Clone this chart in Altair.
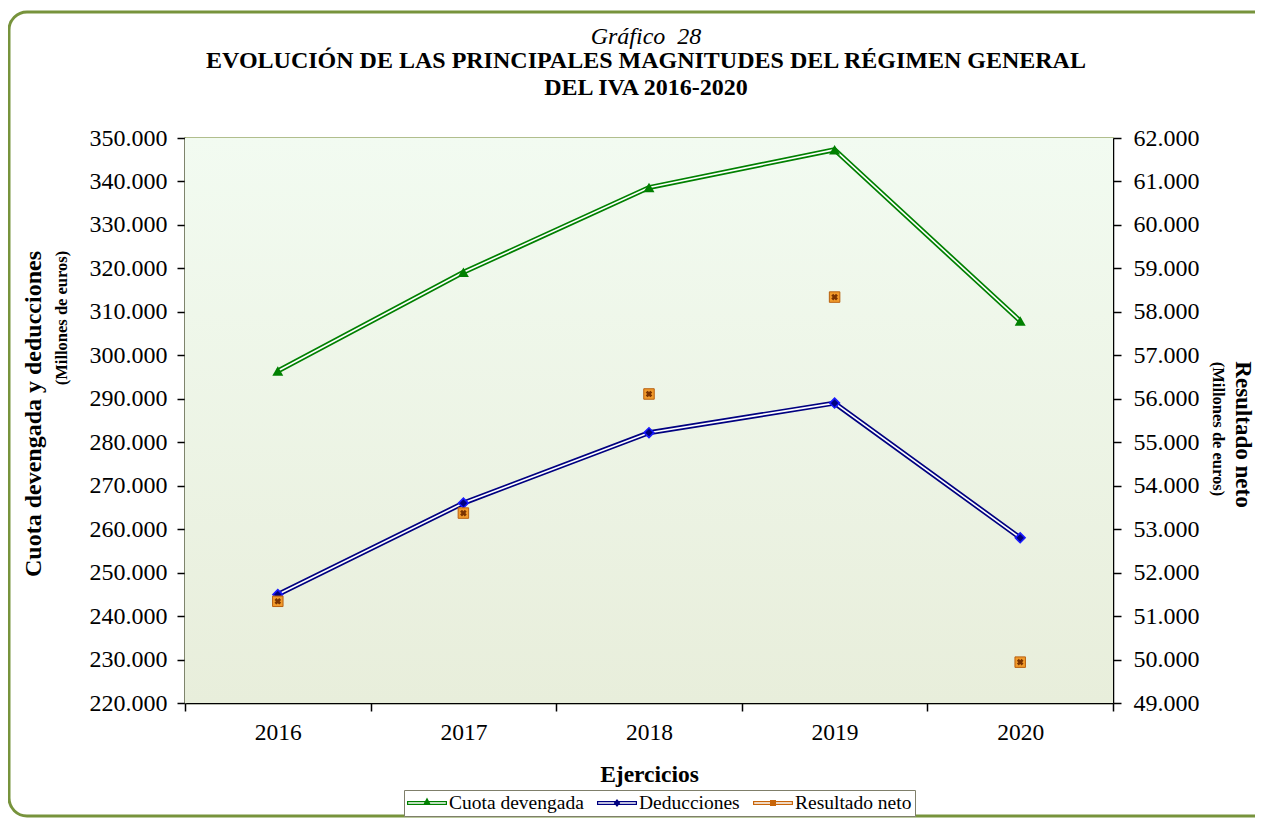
import altair as alt
import pandas as pd

# ---- data ----
anios = ["2016", "2017", "2018", "2019", "2020"]
cuota_devengada = [296400, 319100, 338600, 347300, 307900]
deducciones = [244950, 266000, 282200, 289000, 258000]
resultado_neto = [51340, 53370, 56110, 58340, 49940]
series = ["Cuota devengada", "Deducciones", "Resultado neto"]
left_ticks = list(range(220000, 350001, 10000))
right_ticks = list(range(49000, 62001, 1000))
title_lines = ["Gráfico\u00a0\u00a028",
               "EVOLUCIÓN DE LAS PRINCIPALES MAGNITUDES DEL RÉGIMEN GENERAL",
               "DEL IVA 2016-2020"]

W, H = 928, 565
FONT = "Liberation Serif"

wide = pd.DataFrame({"anio": anios, "cuota": cuota_devengada,
                     "ded": deducciones, "res": resultado_neto})
long = pd.DataFrame({
    "anio": anios * 3,
    "serie": [series[0]] * 5 + [series[1]] * 5 + [series[2]] * 5,
    "valor": cuota_devengada + deducciones + resultado_neto,
})
one = pd.DataFrame({"t": ["(Millones de euros)"]})

label_expr = "replace(format(datum.value, ','), ',', '.')"

X = alt.X("anio:N", sort=anios,
          scale=alt.Scale(paddingInner=0, paddingOuter=0),
          axis=alt.Axis(title="Ejercicios", labelAngle=0, tickBand="extent",
                        labelFont=FONT, labelFontSize=23.5, labelColor="black",
                        labelPadding=9, tickSize=8, tickColor="black", tickWidth=1.5,
                        domainColor="black", domainWidth=1.5, grid=False,
                        titleFont=FONT, titleFontSize=23.5, titleFontWeight="bold",
                        titleColor="black", titleBaseline="middle", titleY=71))

left_axis = alt.Axis(values=left_ticks, labelExpr=label_expr, orient="left",
                     labelFont=FONT, labelFontSize=24, labelColor="black",
                     labelPadding=10, tickSize=8, tickColor="black", tickWidth=1.5,
                     domainColor="#555555", domainWidth=2,
                     grid=True, gridColor="#c9dba6", gridWidth=1.5,
                     title="Cuota devengada y deducciones", titleFont=FONT,
                     titleFontSize=24, titleFontWeight="bold", titleColor="black",
                     titleBaseline="middle", titleX=-152, titleY=H / 2 - 7, titleAngle=270)
left_scale = alt.Scale(domain=[220000, 350000], nice=False, zero=False)

right_axis = alt.Axis(values=right_ticks, labelExpr=label_expr, orient="right",
                      labelFont=FONT, labelFontSize=24, labelColor="black",
                      labelPadding=12, tickSize=8, tickColor="black", tickWidth=1.5,
                      domainColor="black", domainWidth=1.5, grid=False,
                      title="Resultado neto", titleFont=FONT, titleFontSize=23,
                      titleFontWeight="bold", titleColor="black",
                      titleBaseline="middle", titleX=129, titleY=296, titleAngle=90)
right_scale = alt.Scale(domain=[49000, 62000], nice=False, zero=False)

base = alt.Chart(wide)

bg = alt.Chart(one).mark_rect(
    color=alt.LinearGradient(gradient="linear", x1=0, x2=0, y1=0, y2=1,
                             stops=[alt.GradientStop(offset=0, color="#f2fbf1"),
                                    alt.GradientStop(offset=1, color="#e8eedb")])
).encode(x=alt.value(0), x2=alt.value(W), y=alt.value(0), y2=alt.value(H))

def Yl(field):
    return alt.Y(f"{field}:Q", scale=left_scale, axis=left_axis)

cuota_out = base.mark_line(color="#008000", strokeWidth=5).encode(x=X, y=Yl("cuota"))
cuota_in = base.mark_line(color="white", strokeWidth=1.6).encode(x=X, y=Yl("cuota"))
cuota_pt = base.mark_point(shape="triangle-up", filled=True, size=120, color="#008000",
                           opacity=1).encode(x=X, y=Yl("cuota"))
ded_out = base.mark_line(color="#000080", strokeWidth=5).encode(x=X, y=Yl("ded"))
ded_in = base.mark_line(color="white", strokeWidth=1.6).encode(x=X, y=Yl("ded"))
ded_pt = base.mark_point(shape="diamond", filled=True, size=95, fill="#000080",
                         stroke="#1a1aff", strokeWidth=1.6, opacity=1).encode(x=X, y=Yl("ded"))

# legend symbols: double line + marker
ring = "M-1,-0.1L1,-0.1L1,0.1L-1,0.1Z M-0.94,-0.035L-0.94,0.035L0.94,0.035L0.94,-0.035Z "
paths = [ring + "M0,-0.27L0.2,0.1L-0.2,0.1Z",
         ring + "M0,-0.2L0.16,0L0,0.2L-0.16,0Z",
         ring + "M-0.15,-0.15L0.15,-0.15L0.15,0.15L-0.15,0.15Z"]
colors = ["#008000", "#000080", "#c8650a"]
leg = alt.Legend(title=None, orient="none", legendX=219, legendY=652,
                 direction="horizontal")
legend_layer = alt.Chart(long).mark_point(filled=True, opacity=0, size=1600).encode(
    x=X, y=alt.value(0),
    color=alt.Color("serie:N", scale=alt.Scale(domain=series, range=colors), legend=leg),
    shape=alt.Shape("serie:N", scale=alt.Scale(domain=series, range=paths), legend=leg),
)

left = alt.layer(cuota_out, cuota_in, ded_out, ded_in, cuota_pt, ded_pt, legend_layer)

Yr = alt.Y("res:Q", scale=right_scale, axis=right_axis)
res_sq = base.mark_square(size=110, fill="#f29b2b", stroke="#b8600f", strokeWidth=1,
                          opacity=1).encode(x=X, y=Yr)
res_x = base.mark_point(shape="cross", angle=45, filled=True, size=45, color="#7a3300",
                        opacity=1).encode(x=X, y=Yr)
right = alt.layer(res_sq, res_x)

sub_left = alt.Chart(one).mark_text(angle=270, font=FONT, fontSize=16.5, fontWeight="bold",
                                    color="black", baseline="middle", align="center").encode(
    x=alt.value(-123), y=alt.value(180), text="t:N")
sub_right = alt.Chart(one).mark_text(angle=90, font=FONT, fontSize=16.5, fontWeight="bold",
                                     color="black", baseline="middle", align="center").encode(
    x=alt.value(1033), y=alt.value(291), text="t:N")

titles = pd.DataFrame({"t": title_lines, "i": [0, 1, 2]})
title_g = alt.Chart(titles).transform_filter("datum.i == 0").mark_text(
    font=FONT, fontSize=24, fontStyle="italic", color="black",
    align="center", baseline="alphabetic").encode(
    x=alt.value(461), y=alt.value(-94.5), text="t:N")
title_1 = alt.Chart(titles).transform_filter("datum.i == 1").mark_text(
    font=FONT, fontSize=24, fontWeight="bold", color="black",
    align="center", baseline="alphabetic").encode(
    x=alt.value(461), y=alt.value(-70.5), text="t:N")
title_2 = alt.Chart(titles).transform_filter("datum.i == 2").mark_text(
    font=FONT, fontSize=24, fontWeight="bold", color="black",
    align="center", baseline="alphabetic").encode(
    x=alt.value(461), y=alt.value(-43.5), text="t:N")

frame = alt.Chart(one).mark_rect(fillOpacity=0, stroke="#77933c", strokeWidth=3,
                                 cornerRadius=18, clip=False).encode(
    x=alt.value(-176), x2=alt.value(1100), y=alt.value(-126), y2=alt.value(678))

chart = alt.layer(bg, left, right, sub_left, sub_right, title_g, title_1, title_2,
                  frame).resolve_scale(
    y="independent"
).properties(
    width=W, height=H,
    autosize=alt.AutoSizeParams(type="none"),
    padding={"left": 177, "top": 130, "right": 142, "bottom": 115},
    background="white",
).configure_view(
    stroke="#8c9c5c", strokeWidth=1.5
).configure_legend(
    strokeColor="#7f7f6a", fillColor="white", padding=3,
    labelFont=FONT, labelFontSize=19.5, labelColor="black", labelOffset=2,
    symbolSize=1600, symbolStrokeWidth=0, symbolOpacity=1, clipHeight=20,
    columnPadding=13,
)

chart.save("out.html", embed_options={"renderer": "svg", "actions": False})
